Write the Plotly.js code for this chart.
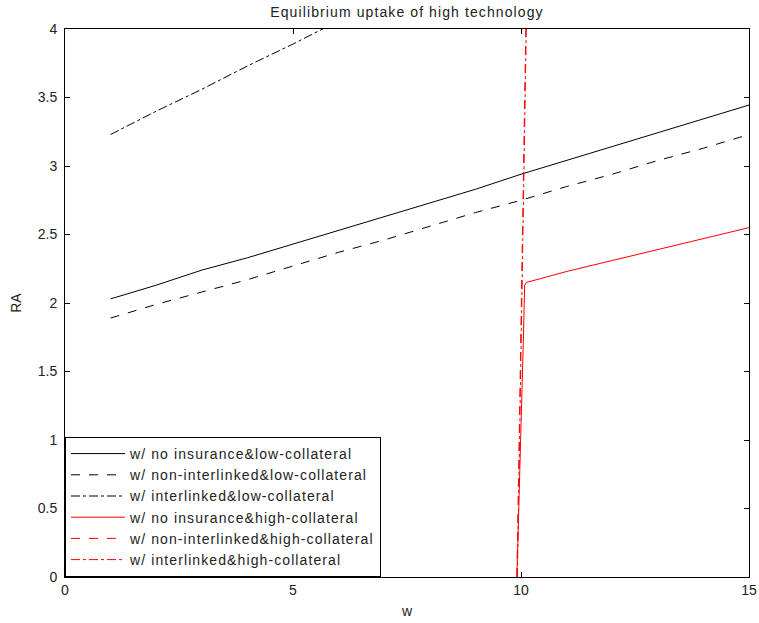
<!DOCTYPE html>
<html>
<head>
<meta charset="utf-8">
<script src="https://cdn.plot.ly/plotly-3.0.1.min.js"></script>
<style>
html,body{margin:0;padding:0;background:#fff;}
#chart{width:759px;height:623px;}
text.legendtext, text.gtitle { letter-spacing: 1.1px; }
</style>
</head>
<body>
<div id="chart"></div>
<script>
// ---- data ----
var seriesNames = [
  "w/ no insurance&low-collateral",
  "w/ non-interlinked&low-collateral",
  "w/ interlinked&low-collateral",
  "w/ no insurance&high-collateral",
  "w/ non-interlinked&high-collateral",
  "w/ interlinked&high-collateral"
];
var wLow = [1, 2, 3, 4, 5, 6, 7, 8, 9, 10, 11, 12, 13, 14, 15];
var raNoInsLow = [2.03, 2.13, 2.24, 2.33, 2.43, 2.53, 2.63, 2.73, 2.83, 2.94, 3.04, 3.14, 3.24, 3.34, 3.445];
var raNonIntLow = [1.89, 1.99, 2.08, 2.17, 2.27, 2.37, 2.46, 2.56, 2.66, 2.75, 2.85, 2.94, 3.04, 3.13, 3.23];
var wIntLow = [1, 2, 3, 4, 5, 6];
var raIntLow = [3.23, 3.40, 3.56, 3.73, 3.89, 4.06];
var wNoInsHigh = [9.91, 9.95, 10.0, 10.05, 10.08, 10.12, 11, 12, 13, 14, 15];
var raNoInsHigh = [0, 0.55, 1.1, 1.7, 2.13, 2.15, 2.23, 2.31, 2.39, 2.47, 2.55];
var wNonIntHigh = [9.91, 9.96, 10.0, 10.05, 10.1, 10.12];
var raNonIntHigh = [0, 1.0, 2.0, 3.0, 4.0, 4.3];
var wIntHigh = [9.92, 9.97, 10.01, 10.06, 10.11, 10.13];
var raIntHigh = [0, 1.0, 2.0, 3.0, 4.0, 4.3];
var xTicks = [0, 5, 10, 15];
var yTicks = [0, 0.5, 1, 1.5, 2, 2.5, 3, 3.5, 4];
var yTickText = ["0", "0.5", "1", "1.5", "2", "2.5", "3", "3.5", "4"];
// --------------------------------------

var FONT = "Liberation Sans, Arial, Helvetica, sans-serif";
function tr(x, y, name, color, dash) {
  return {x: x, y: y, name: name, type: "scatter", mode: "lines",
          line: {color: color, width: 1, dash: dash}, hoverinfo: "skip"};
}
var data = [
  tr(wLow, raNoInsLow, seriesNames[0], "#000000", "solid"),
  tr(wLow, raNonIntLow, seriesNames[1], "#000000", "dash"),
  tr(wIntLow, raIntLow, seriesNames[2], "#000000", "dashdot"),
  tr(wNoInsHigh, raNoInsHigh, seriesNames[3], "#ff0000", "solid"),
  tr(wNonIntHigh, raNonIntHigh, seriesNames[4], "#ff0000", "dash"),
  tr(wIntHigh, raIntHigh, seriesNames[5], "#ff0000", "dashdot")
];

var axisCommon = {
  showgrid: false, zeroline: false, showline: true, linecolor: "#000", linewidth: 1,
  mirror: "ticks", ticks: "inside", ticklen: 5, tickcolor: "#000", tickwidth: 1,
  tickfont: {family: FONT, size: 14, color: "#222"}
};

var layout = {
  width: 759, height: 623,
  margin: {l: 65, r: 10, t: 29, b: 46},
  paper_bgcolor: "#fff", plot_bgcolor: "#fff",
  font: {family: FONT, size: 14, color: "#222"},
  title: {text: "Equilibrium uptake of high technology", font: {family: FONT, size: 14, color: "#222"},
          x: 0.5, xref: "paper", y: 1 - 12 / 623, yref: "container", yanchor: "middle"},
  xaxis: Object.assign({}, axisCommon, {range: [0, 15], tickvals: xTicks, ticktext: xTicks.map(String),
          title: {text: "w", font: {family: FONT, size: 14, color: "#222"}, standoff: 9}}),
  yaxis: Object.assign({}, axisCommon, {range: [0, 4], tickvals: yTicks, ticktext: yTickText,
          ticklabelstandoff: 4,
          title: {text: "RA", font: {family: FONT, size: 14, color: "#222"}, standoff: 12}}),
  showlegend: true,
  legend: {x: 0, y: 0, xanchor: "left", yanchor: "bottom", bgcolor: "#fff",
           bordercolor: "#000", borderwidth: 1, font: {family: FONT, size: 14, color: "#222"},
           itemwidth: 54, tracegroupgap: 0}
};

Plotly.newPlot("chart", data, layout, {staticPlot: true});
</script>
</body>
</html>
